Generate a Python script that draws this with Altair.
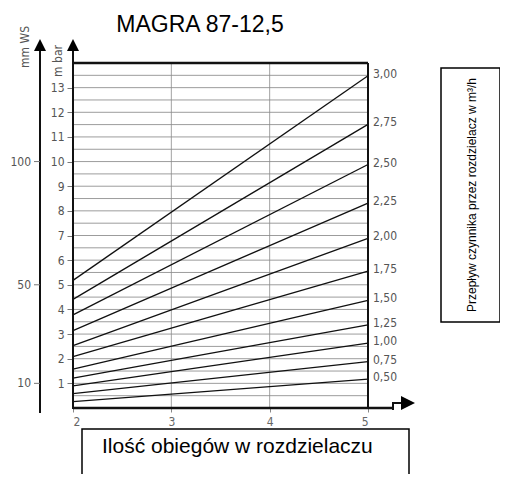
import altair as alt
import pandas as pd

# ---- data ----
flows = ["0,50", "0,75", "1,00", "1,25", "1,50", "1,75", "2,00", "2,25", "2,50", "2,75", "3,00"]
dp_at_2 = [0.26, 0.58, 0.90, 1.21, 1.58, 2.08, 2.53, 3.14, 3.78, 4.41, 5.18]
dp_at_5 = [1.17, 1.88, 2.63, 3.37, 4.37, 5.55, 6.88, 8.31, 9.88, 11.51, 13.48]
circuits = [2, 5]
mbar_ticks = [1, 2, 3, 4, 5, 6, 7, 8, 9, 10, 11, 12, 13]
grid_y = [0.5, 1, 1.5, 2, 2.5, 3, 3.5, 4, 4.5, 5, 5.5, 6, 6.5, 7, 7.5, 8, 8.5, 9,
          9.5, 10, 10.5, 11, 11.5, 12, 12.5, 13, 13.5]
grid_x = [3, 4]
x_ticks = [2, 3, 4, 5]
mmws_labels = ["10", "50", "100"]
mmws_pos = [1, 5, 10]

title_text = "MAGRA 87-12,5"
x_title = "Ilość obiegów w rozdzielaczu"
right_title = "Przepływ czynnika przez rozdzielacz w m³/h"

# ---- tables ----
rows = []
for f, a, b in zip(flows, dp_at_2, dp_at_5):
    rows.append({"flow": f, "n": circuits[0], "dp": a})
    rows.append({"flow": f, "n": circuits[1], "dp": b})
lines_df = pd.DataFrame(rows)
ends_df = pd.DataFrame({"flow": flows, "n": [circuits[1]] * len(flows), "dp": dp_at_5})
grid_df = pd.DataFrame({"v": grid_y})
gridx_df = pd.DataFrame({"v": grid_x})
mmws_df = pd.DataFrame({"lab": mmws_labels, "v": mmws_pos})
one = pd.DataFrame({"a": [0]})

NARROW = "Liberation Sans Narrow, DejaVu Sans Condensed, Arial Narrow, sans-serif"
SANS = "Liberation Sans, Arial, sans-serif"

W, H = 295, 345
xscale = alt.Scale(domain=[2, 5], nice=False, zero=False)
yscale = alt.Scale(domain=[0, 14], nice=False, zero=True)

yaxis = alt.Axis(values=mbar_ticks, title=None, domain=False, grid=False,
                 tickColor="#777", tickSize=6, labelPadding=3,
                 labelFont=NARROW, labelFontSize=12, labelColor="#555")
xaxis = alt.Axis(values=x_ticks, title=None, domain=False, grid=False, format="d",
                 tickColor="#888", tickSize=4, labelPadding=4,
                 labelFont=NARROW, labelFontSize=12, labelColor="#666")

# grid
grid_h = alt.Chart(grid_df).mark_rule(color="#9c9c9c", strokeWidth=1).encode(
    y=alt.Y("v:Q", scale=yscale, axis=yaxis)
)
grid_v = alt.Chart(gridx_df).mark_rule(color="#8a8a8a", strokeWidth=0.8).encode(
    x=alt.X("v:Q", scale=xscale, axis=xaxis)
)

# flow lines
flow_lines = alt.Chart(lines_df).mark_line(color="#111", strokeWidth=1.3).encode(
    x=alt.X("n:Q", scale=xscale, axis=xaxis),
    y=alt.Y("dp:Q", scale=yscale, axis=yaxis),
    detail="flow:N",
)
flow_labels = alt.Chart(ends_df).mark_text(
    align="left", baseline="middle", dx=5, dy=-2, font=NARROW, fontSize=12, color="#555"
).encode(
    x=alt.X("n:Q", scale=xscale, axis=xaxis),
    y=alt.Y("dp:Q", scale=yscale, axis=yaxis),
    text="flow:N",
)

# frame
top_border = alt.Chart(pd.DataFrame({"v": [14]})).mark_rule(color="#111", strokeWidth=2.5).encode(
    y=alt.Y("v:Q", scale=yscale, axis=yaxis)
)
right_border = alt.Chart(pd.DataFrame({"v": [5]})).mark_rule(color="#111", strokeWidth=2).encode(
    x=alt.X("v:Q", scale=xscale, axis=xaxis)
)
bottom_line = alt.Chart(one).mark_rule(color="#111", strokeWidth=2.5).encode(
    x=alt.value(0), x2=alt.value(320), y=alt.value(H)
)
arrow_step = alt.Chart(one).mark_rule(color="#111", strokeWidth=2).encode(
    x=alt.value(320), y=alt.value(339), y2=alt.value(347)
)
arrow_stem = alt.Chart(one).mark_rule(color="#111", strokeWidth=2).encode(
    x=alt.value(320), x2=alt.value(330), y=alt.value(340)
)
arrow_right = alt.Chart(one).mark_point(
    shape="M-1,-1L1,0L-1,1Z", filled=True, color="#000", size=196, opacity=1
).encode(x=alt.value(335), y=alt.value(340))

inner_axis = alt.Chart(one).mark_rule(color="#111", strokeWidth=2).encode(
    x=alt.value(0), y=alt.value(-13), y2=alt.value(346)
)
outer_axis = alt.Chart(one).mark_rule(color="#111", strokeWidth=2).encode(
    x=alt.value(-33), y=alt.value(-13), y2=alt.value(350)
)
arrows_up = alt.Chart(pd.DataFrame({"px": [0, -33]})).mark_point(
    shape="M0,-1L1,1L-1,1Z", filled=True, color="#000", size=144, opacity=1
).encode(x=alt.X("px:Q", scale=None), y=alt.value(-18))

mm_ticks = alt.Chart(mmws_df).mark_rule(color="#777", strokeWidth=1).encode(
    x=alt.value(-39), x2=alt.value(-33), y=alt.Y("v:Q", scale=yscale, axis=yaxis)
)
mm_labels = alt.Chart(mmws_df).mark_text(
    align="right", baseline="middle", font=NARROW, fontSize=12, color="#555"
).encode(x=alt.value(-42), y=alt.Y("v:Q", scale=yscale, axis=yaxis), text="lab:N")

mm_title = alt.Chart(one).mark_text(
    text="mm WS", angle=270, align="center", baseline="middle",
    font=NARROW, fontSize=12, color="#555"
).encode(x=alt.value(-48), y=alt.value(-16))
mbar_title = alt.Chart(one).mark_text(
    text="m bar", angle=270, align="center", baseline="middle",
    font=NARROW, fontSize=12, color="#555"
).encode(x=alt.value(-15), y=alt.value(-2))

title = alt.Chart(one).mark_text(
    text=title_text, align="center", baseline="alphabetic",
    font=SANS, fontSize=23, color="#000"
).encode(x=alt.value(127), y=alt.value(-31))

bottom_box = alt.Chart(one).mark_rect(fill="white", fillOpacity=0, stroke="#000", strokeWidth=1.5).encode(
    x=alt.value(9), x2=alt.value(336), y=alt.value(366), y2=alt.value(413)
)
bottom_text = alt.Chart(one).mark_text(
    text=x_title, align="left", baseline="alphabetic", font=SANS, fontSize=21, color="#000"
).encode(x=alt.value(29), y=alt.value(390))

right_box = alt.Chart(one).mark_rect(fill="white", fillOpacity=0, stroke="#000", strokeWidth=1.5).encode(
    x=alt.value(368), x2=alt.value(427), y=alt.value(5), y2=alt.value(259)
)
right_text = alt.Chart(one).mark_text(
    text=right_title, angle=270, align="center", baseline="middle",
    font=SANS, fontSize=12, color="#000"
).encode(x=alt.value(399), y=alt.value(132))

chart = alt.layer(
    grid_h, grid_v, flow_lines, flow_labels, top_border, right_border,
    bottom_line, arrow_step, arrow_stem, arrow_right, inner_axis, outer_axis, arrows_up,
    mm_ticks, mm_labels, mm_title, mbar_title, title,
    bottom_box, bottom_text, right_box, right_text,
).properties(
    width=W, height=H,
    autosize=alt.AutoSizeParams(type="none"),
    padding={"left": 65, "top": 55, "right": 132, "bottom": 66},
).configure_view(stroke=None).configure(background="white")

chart.save("out.html", embed_options={"renderer": "svg", "actions": False})
